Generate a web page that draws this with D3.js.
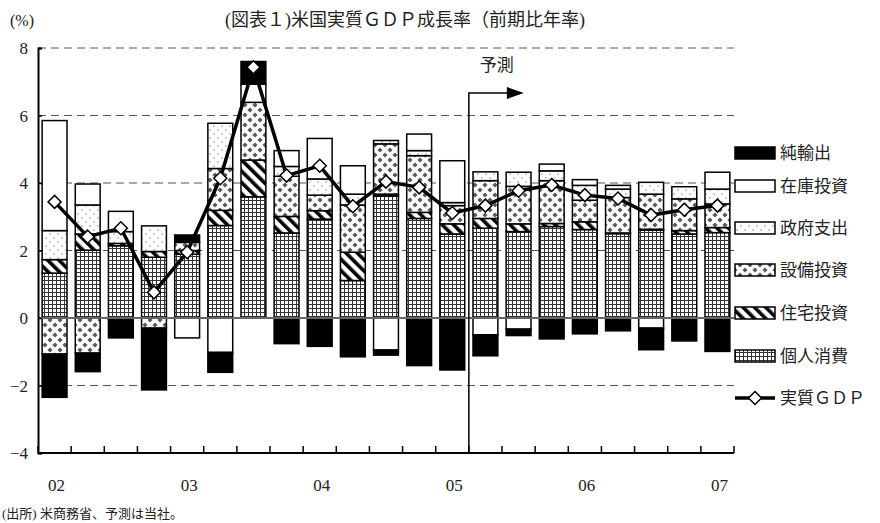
<!DOCTYPE html>
<html>
<head>
<meta charset="utf-8">
<script src="https://cdn.jsdelivr.net/npm/d3@7"></script>
<style>
  body { margin: 0; background: #fff; }
  text { font-family: "Liberation Serif", "Noto Sans CJK JP", serif; fill: #222; }
</style>
</head>
<body>
<div id="chart-area"></div>
<script>
// quarters 2002Q1 .. 2007Q1 (forecast from 2005Q2)
const quarters = ['02Q1','02Q2','02Q3','02Q4','03Q1','03Q2','03Q3','03Q4',
                  '04Q1','04Q2','04Q3','04Q4','05Q1','05Q2','05Q3','05Q4',
                  '06Q1','06Q2','06Q3','06Q4','07Q1']
const yearLabels = ['02','03','04','05','06','07']
const yTicks = [-4, -2, 0, 2, 4, 6, 8]

// contributions (% pt)
const consumption = [1.33, 2.01, 2.14, 1.80, 1.89, 2.74, 3.59, 2.52, 2.93, 1.11, 3.62, 2.95, 2.49, 2.66, 2.56, 2.71, 2.62, 2.50, 2.60, 2.49, 2.53]
const housing     = [0.40, 0.48, 0.07, 0.17, 0.11, 0.45, 1.09, 0.49, 0.25, 0.84, 0.05, 0.18, 0.30, 0.29, 0.23, 0.09, 0.23, 0.02, 0.03, 0.10, 0.15]
const equipment   = [-1.07, -1.04, -0.05, -0.30, 0.24, 1.24, 1.71, 1.19, 0.46, 1.40, 1.49, 1.68, 0.54, 1.12, 1.11, 1.27, 0.64, 1.05, 1.04, 0.94, 0.70]
const government  = [0.86, 0.86, 0.35, 0.76, 0.00, 1.34, 0.00, 0.29, 0.48, 0.32, 0.10, 0.15, 0.09, 0.26, 0.42, 0.29, 0.44, 0.25, 0.35, 0.36, 0.44]
const inventory   = [3.26, 0.62, 0.60, 0.00, -0.59, -1.02, 0.54, 0.47, 1.20, 0.84, -0.95, 0.49, 1.24, -0.50, -0.33, 0.20, 0.17, 0.11, -0.30, 0.00, 0.50]
const netExports  = [-1.28, -0.55, -0.54, -1.83, 0.22, -0.59, 0.67, -0.76, -0.84, -1.15, -0.15, -1.41, -1.54, -0.62, -0.19, -0.62, -0.47, -0.38, -0.64, -0.68, -0.99]
const realGDP     = [3.44, 2.41, 2.66, 0.76, 1.95, 4.14, 7.43, 4.22, 4.51, 3.31, 4.04, 3.87, 3.11, 3.33, 3.77, 3.94, 3.64, 3.54, 3.05, 3.21, 3.33]

const keys = ['consumption','housing','equipment','government','inventory','netExports']
const names = {consumption:'個人消費', housing:'住宅投資', equipment:'設備投資',
               government:'政府支出', inventory:'在庫投資', netExports:'純輸出'}
const fills = {consumption:'url(#grid)', housing:'url(#hatch)', equipment:'url(#diamond)',
               government:'url(#dots)', inventory:'#fff', netExports:'#000'}

const rows = quarters.map((q, i) => ({
  q, consumption: consumption[i], housing: housing[i], equipment: equipment[i],
  government: government[i], inventory: inventory[i], netExports: netExports[i]
}))

const W = 880, H = 523
const svg = d3.select('#chart-area').append('svg')
              .attr('width', W).attr('height', H)

// PATTERNS
const defs = svg.append('defs')
let p = defs.append('pattern').attr('id','grid').attr('patternUnits','userSpaceOnUse')
            .attr('width', 4).attr('height', 4)
p.append('rect').attr('width',4).attr('height',4).attr('fill','#fff')
p.append('path').attr('d','M0,0.5H4M0.5,0V4').attr('stroke','#333').attr('stroke-width',1)

p = defs.append('pattern').attr('id','hatch').attr('patternUnits','userSpaceOnUse')
        .attr('width', 8).attr('height', 8).attr('patternTransform','rotate(-45)')
p.append('rect').attr('width',8).attr('height',8).attr('fill','#fff')
p.append('rect').attr('width',3.6).attr('height',8).attr('fill','#000')

p = defs.append('pattern').attr('id','diamond').attr('patternUnits','userSpaceOnUse')
        .attr('width', 10).attr('height', 10)
p.append('rect').attr('width',10).attr('height',10).attr('fill','#fff')
const dm = (cx, cy, r) => `M${cx},${cy - r}L${cx + r},${cy}L${cx},${cy + r}L${cx - r},${cy}Z`
p.append('path').attr('fill','#5a5a5a')
 .attr('d', [[5,5],[0,0],[10,0],[0,10],[10,10]].map(c => dm(c[0], c[1], 2.6)).join(''))

p = defs.append('pattern').attr('id','dots').attr('patternUnits','userSpaceOnUse')
        .attr('width', 8).attr('height', 8)
p.append('rect').attr('width',8).attr('height',8).attr('fill','#fff')
p.append('circle').attr('cx',2).attr('cy',2).attr('r',0.7).attr('fill','#777')
p.append('circle').attr('cx',6).attr('cy',6).attr('r',0.7).attr('fill','#777')

// SCALES
const x = d3.scaleBand().domain(quarters).range([38, 734]).paddingInner(0.25).paddingOuter(0.125)
const y = d3.scaleLinear().domain([-4, 8]).range([453, 48])

// GRIDLINES
svg.append('g').selectAll('line').data(yTicks.filter(d => d !== 0 && d !== -4)).enter()
   .append('line')
   .attr('x1', 38).attr('x2', 734)
   .attr('y1', d => y(d)).attr('y2', d => y(d))
   .attr('stroke', '#555').attr('stroke-width', 1).attr('stroke-dasharray', '8,5')

// BARS
const series = d3.stack().keys(keys).offset(d3.stackOffsetDiverging)(rows)
svg.append('g').selectAll('g').data(series).enter()
   .append('g')
   .attr('fill', d => fills[d.key])
   .selectAll('rect').data(d => d).enter()
   .append('rect')
   .attr('x', d => x(d.data.q))
   .attr('width', x.bandwidth())
   .attr('y', d => y(Math.max(d[0], d[1])))
   .attr('height', d => Math.abs(y(d[0]) - y(d[1])))
   .attr('stroke', '#000').attr('stroke-width', 1.5)

// ZERO LINE
svg.append('line').attr('x1', 38).attr('x2', 734)
   .attr('y1', y(0)).attr('y2', y(0))
   .attr('stroke', '#666').attr('stroke-width', 2)

// AXES
const yAxis = d3.axisRight(y).tickValues(yTicks).tickSize(4).tickFormat('')
const gy = svg.append('g').attr('transform', 'translate(38,0)').call(yAxis)
gy.select('.domain').attr('stroke-width', 2)
gy.selectAll('.tick line').attr('stroke-width', 1.5)

svg.append('g').selectAll('text').data(yTicks).enter()
   .append('text')
   .attr('x', 28).attr('y', d => y(d) + 6)
   .attr('text-anchor', 'end').attr('font-size', 17)
   .text(d => d < 0 ? '−' + Math.abs(d) : d)

const step = x.step()
const boundaries = quarters.map(q => x(q) - step * x.paddingInner() / 2).concat([734])
svg.append('line').attr('x1', 38).attr('x2', 734).attr('y1', y(-4)).attr('y2', y(-4))
   .attr('stroke', '#000').attr('stroke-width', 2)
svg.append('g').selectAll('line').data(boundaries).enter()
   .append('line')
   .attr('x1', d => d).attr('x2', d => d)
   .attr('y1', y(-4)).attr('y2', y(-4) - 7)
   .attr('stroke', '#000').attr('stroke-width', 1.5)

svg.append('g').selectAll('text').data(yearLabels).enter()
   .append('text')
   .attr('x', d => x(d + 'Q1') + x.bandwidth() / 2 + 2)
   .attr('y', 491)
   .attr('text-anchor', 'middle').attr('font-size', 17)
   .text(d => d)

// GDP LINE
const line = d3.line().x((d, i) => x(quarters[i]) + x.bandwidth() / 2).y(d => y(d))
svg.append('path').datum(realGDP)
   .attr('d', line).attr('fill', 'none')
   .attr('stroke', '#000').attr('stroke-width', 3.5)
svg.append('g').selectAll('path').data(realGDP).enter()
   .append('path')
   .attr('transform', (d, i) => `translate(${x(quarters[i]) + x.bandwidth() / 2},${y(d)})`)
   .attr('d', 'M0,-6.5L6.5,0L0,6.5L-6.5,0Z')
   .attr('fill', '#fff').attr('stroke', '#000').attr('stroke-width', 1.5)

// FORECAST MARKER
const fx = boundaries[13]
svg.append('path').attr('d', `M${fx},${y(-4)}V93H${fx + 40}`)
   .attr('fill', 'none').attr('stroke', '#000').attr('stroke-width', 1.5)
svg.append('path').attr('d', `M${fx + 38},87L${fx + 55},93L${fx + 38},99Z`).attr('fill', '#000')
svg.append('text').attr('x', fx + 28).attr('y', 71).attr('text-anchor', 'middle')
   .attr('font-size', 17).text('予測')

// TITLES
svg.append('text').attr('x', 10).attr('y', 26).attr('font-size', 16).text('(%)')
svg.append('text').attr('x', 405).attr('y', 26).attr('text-anchor', 'middle')
   .attr('font-size', 18).text('(図表１)米国実質ＧＤＰ成長率（前期比年率)')
svg.append('text').attr('x', 2).attr('y', 518).attr('font-size', 13)
   .text('(出所) 米商務省、予測は当社。')

// LEGEND
const legendY = [153, 186, 228, 270, 313, 356]
const legendKeys = keys.slice().reverse()
const lg = svg.append('g').selectAll('g').data(legendKeys).enter()
   .append('g').attr('transform', (d, i) => `translate(735,${legendY[i]})`)
lg.append('rect').attr('x', 0).attr('y', -6).attr('width', 40).attr('height', 12)
  .attr('fill', d => fills[d]).attr('stroke', '#000').attr('stroke-width', 1.5)
lg.append('text').attr('x', 45).attr('y', 6).attr('font-size', 17).text(d => names[d])

const gl = svg.append('g').attr('transform', 'translate(735,398)')
gl.append('line').attr('x1', 0).attr('x2', 40).attr('stroke', '#000').attr('stroke-width', 3.5)
gl.append('path').attr('transform', 'translate(20,0)').attr('d', 'M0,-6.5L6.5,0L0,6.5L-6.5,0Z')
  .attr('fill', '#fff').attr('stroke', '#000').attr('stroke-width', 1.5)
gl.append('text').attr('x', 45).attr('y', 6).attr('font-size', 17).text('実質ＧＤＰ')
</script>
</body>
</html>
